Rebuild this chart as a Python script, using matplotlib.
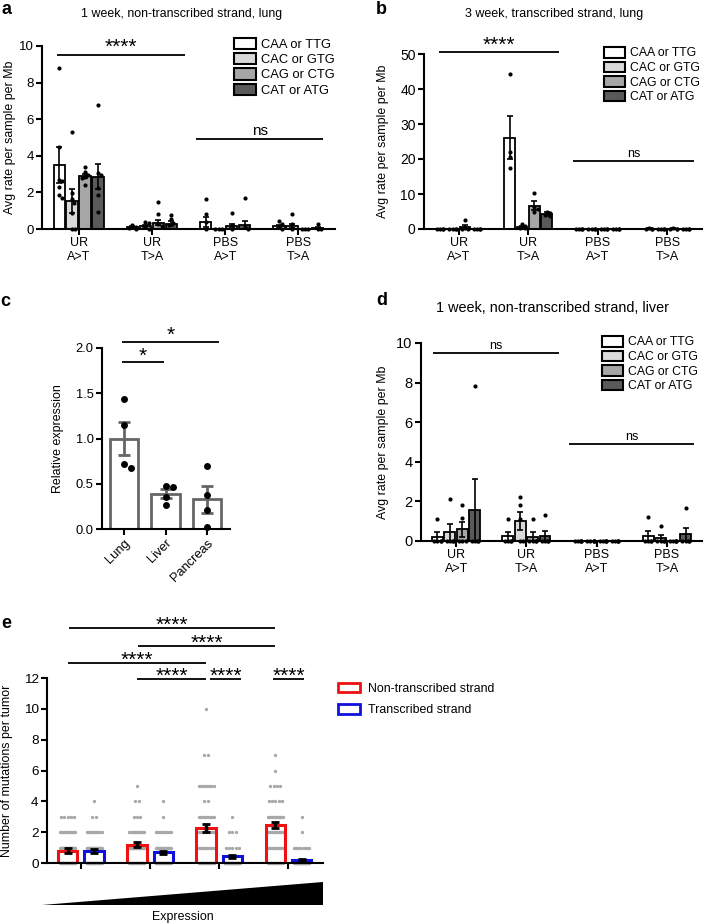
import numpy as np
import matplotlib
matplotlib.use('Agg')
import matplotlib.pyplot as plt
from matplotlib.patches import Patch, Polygon

plt.rcParams['font.family'] = ['Liberation Sans', 'DejaVu Sans']

W, H = 704, 924

# ---------------- data ----------------
codons = ['CAA or TTG', 'CAC or GTG', 'CAG or CTG', 'CAT or ATG']
codon_colors = ['white', '#d9d9d9', '#a6a6a6', '#5a5a5a']
groups = ['UR\nA>T', 'UR\nT>A', 'PBS\nA>T', 'PBS\nT>A']

# panel a: 1 week, non-transcribed strand, lung (rows = group, cols = codon)
a_mean = [[3.5, 1.55, 2.88, 2.86], [0.12, 0.17, 0.35, 0.3],
          [0.38, 0.0, 0.16, 0.22], [0.14, 0.15, 0.0, 0.05]]
a_sem = [[0.98, 0.65, 0.12, 0.7], [0.05, 0.07, 0.12, 0.12],
         [0.25, 0.0, 0.1, 0.22], [0.07, 0.12, 0.0, 0.05]]
a_pts = [
    [[8.78, 4.5, 2.7, 2.6, 2.3, 1.85, 1.7], [5.32, 1.95, 1.62, 1.44, 0.86, 0.0, 0.0],
     [3.37, 3.1, 2.95, 2.82, 2.77, 2.4], [6.78, 3.04, 2.95, 2.22, 1.86, 0.95]],
    [[0.2, 0.1, 0.05, 0.0], [0.4, 0.35, 0.15, 0.0], [1.48, 0.82, 0.3, 0.15], [0.77, 0.53, 0.35, 0.2]],
    [[1.65, 0.82, 0.4, 0.0], [0.0, 0.0, 0.0], [0.86, 0.2, 0.0], [1.7, 0.1, 0.0]],
    [[0.44, 0.3, 0.1, 0.0], [0.82, 0.3, 0.0], [0.0, 0.0, 0.0], [0.25, 0.0, 0.0]],
]

# panel b: 3 week, transcribed strand, lung
b_mean = [[0.0, 0.0, 0.6, 0.0], [26.1, 0.67, 6.7, 4.3],
          [0.0, 0.0, 0.0, 0.0], [0.12, 0.0, 0.1, 0.0]]
b_sem = [[0.0, 0.0, 0.6, 0.0], [6.2, 0.3, 1.2, 0.5],
         [0.0, 0.0, 0.0, 0.0], [0.1, 0.0, 0.08, 0.0]]
b_pts = [
    [[0, 0, 0, 0], [0, 0, 0, 0], [2.5, 0.3, 0, 0], [0, 0, 0, 0]],
    [[44.4, 22.1, 20.5, 17.5], [1.3, 0.8, 0.4, 0.2], [10.2, 6.2, 5.6, 4.8], [4.95, 4.5, 4.0, 3.7]],
    [[0, 0, 0, 0], [0, 0, 0, 0], [0, 0, 0, 0], [0, 0, 0, 0]],
    [[0.3, 0.1, 0, 0], [0, 0, 0, 0], [0.3, 0.1, 0, 0], [0, 0, 0, 0]],
]

# panel c: relative expression
tissues = ['Lung', 'Liver', 'Pancreas']
c_mean = [1.0, 0.39, 0.33]
c_sem = [0.18, 0.05, 0.15]
c_pts = [[1.44, 1.15, 0.72, 0.67], [0.47, 0.46, 0.35, 0.27], [0.70, 0.38, 0.21, 0.02]]

# panel d: 1 week, non-transcribed strand, liver
d_mean = [[0.22, 0.43, 0.59, 1.57], [0.23, 1.03, 0.22, 0.26],
          [0.0, 0.0, 0.0, 0.0], [0.25, 0.15, 0.0, 0.33]]
d_sem = [[0.22, 0.43, 0.37, 1.57], [0.23, 0.45, 0.22, 0.26],
         [0.0, 0.0, 0.0, 0.0], [0.25, 0.15, 0.0, 0.33]]
d_pts = [
    [[1.09, 0, 0, 0, 0], [2.14, 0, 0, 0, 0], [1.8, 1.16, 0, 0, 0], [7.85, 0, 0, 0, 0]],
    [[1.13, 0, 0, 0, 0], [2.24, 1.82, 1.1, 0, 0], [1.1, 0, 0, 0, 0], [1.31, 0, 0, 0, 0]],
    [[0, 0, 0, 0, 0], [0, 0, 0, 0, 0], [0, 0, 0, 0, 0], [0, 0, 0, 0, 0]],
    [[1.23, 0, 0, 0, 0], [0.76, 0, 0, 0, 0], [0, 0, 0, 0, 0], [1.65, 0, 0, 0, 0]],
]

# panel e: mutations per tumor by expression quartile
strands = ['Non-transcribed strand', 'Transcribed strand']
e_nts_mean = [0.8, 1.2, 2.25, 2.45]
e_nts_sem = [0.15, 0.15, 0.25, 0.2]
e_ts_mean = [0.78, 0.7, 0.45, 0.22]
e_ts_sem = [0.12, 0.1, 0.1, 0.07]
# number of tumours with 0, 1, 2, ... mutations
e_nts_counts = [[25, 30, 15, 5],
                [20, 20, 15, 3, 2, 1],
                [15, 12, 10, 10, 2, 8, 0, 2, 0, 0, 1],
                [15, 12, 12, 12, 5, 4, 1, 1]]
e_ts_counts = [[25, 30, 12, 2, 1],
               [25, 20, 10, 1, 1],
               [30, 5, 3, 1],
               [30, 8, 1, 1]]

# significance brackets (x1, x2, y, label)
a_sig = [(-0.3, 1.45, 9.5, '****'), (1.6, 3.34, 4.9, 'ns')]
b_sig = [(-0.29, 1.44, 50.6, '****'), (1.65, 3.38, 19.4, 'ns')]
c_sig = [(-0.05, 0.95, 1.84, '*'), (-0.05, 2.29, 2.07, '*')]
d_sig = [(-0.33, 1.46, 9.5, 'ns'), (1.61, 3.39, 4.9, 'ns')]
e_sig = [(-0.17, 2.81, 15.25, '****'), (0.83, 2.81, 14.08, '****'),
         (-0.19, 1.81, 12.97, '****'), (0.81, 1.81, 11.93, '****'),
         (1.87, 2.31, 11.93, '****'), (2.78, 3.22, 11.93, '****')]


# ---------------- helpers ----------------
def rect(l, t, r, b):
    return [l / W, 1 - b / H, (r - l) / W, (b - t) / H]


def style(ax, fs):
    for s in ['top', 'right']:
        ax.spines[s].set_visible(False)
    for s in ['left', 'bottom']:
        ax.spines[s].set_linewidth(1.5)
    ax.tick_params(width=1.5, length=4, labelsize=fs, pad=2)


def px_per_unit(ax):
    pos = ax.get_position()
    x0, x1 = ax.get_xlim()
    y0, y1 = ax.get_ylim()
    return pos.width * W / (x1 - x0), pos.height * H / (y1 - y0)


def swarm(ax, x0, ys, diam, maxhalf):
    ppx, ppy = px_per_unit(ax)
    placed, xs = [], []
    cands = [0] + [s * i for i in range(1, 40) for s in (1, -1)]
    for y in sorted(ys, reverse=True):
        yp = y * ppy
        for c in cands:
            xp = c * diam * 0.5
            if all((xp - p) ** 2 + (yp - q) ** 2 >= (0.85 * diam) ** 2 for p, q in placed):
                break
        xp = max(-maxhalf, min(maxhalf, xp))
        placed.append((xp, yp))
        xs.append(x0 + xp / ppx)
    return xs, sorted(ys, reverse=True)


def brackets(ax, sig, star_off, ns_fs, lw=1.3):
    for x1, x2, y, lab in sig:
        ax.plot([x1, x2], [y, y], color='black', lw=lw, clip_on=False,
                solid_capstyle='butt')
        if '*' in lab:
            ax.annotate(lab, ((x1 + x2) / 2, y), xytext=(0, star_off), textcoords='offset points',
                        ha='center', va='baseline', fontsize=15, annotation_clip=False)
        else:
            ax.annotate(lab, ((x1 + x2) / 2, y), xytext=(0, 1), textcoords='offset points',
                        ha='center', va='bottom', fontsize=ns_fs, annotation_clip=False)


def codon_panel(ax, means, sems, pts, ymax, yticks, sig, leg_xy, leg_fs, ylab_x, ns_fs, star_off):
    step, width = 0.177, 0.155
    ax.set_xlim(-0.5, 3.5)
    ax.set_ylim(0, ymax)
    for g in range(len(groups)):
        for j in range(len(codons)):
            x = g + (j - 1.5) * step
            ax.bar(x, means[g][j], width, color=codon_colors[j], edgecolor='black',
                   linewidth=1.3, zorder=2)
            if sems[g][j] > 0:
                ax.errorbar(x, means[g][j], yerr=sems[g][j], fmt='none', ecolor='black',
                            elinewidth=1.2, capsize=2.5, capthick=1.2, zorder=3)
            xs, ys = swarm(ax, x, pts[g][j], 4.2, 3.2)
            ax.plot(xs, ys, 'o', color='black', ms=3, mew=0, zorder=4, clip_on=False)
    ax.set_xticks(range(len(groups)))
    ax.set_xticklabels(groups, fontsize=9, linespacing=1.2)
    ax.set_yticks(yticks)
    ax.set_ylabel('Avg rate per sample per Mb', fontsize=8.9)
    pos = ax.get_position()
    ax.yaxis.set_label_coords((ylab_x - pos.x0 * W) / (pos.width * W), 0.5)
    brackets(ax, sig, star_off, ns_fs)
    handles = [Patch(facecolor=c, edgecolor='black', linewidth=1.5) for c in codon_colors]
    ax.legend(handles, codons, loc='upper left', bbox_to_anchor=(leg_xy[0] / W, 1 - leg_xy[1] / H),
              bbox_transform=fig.transFigure, frameon=False, fontsize=leg_fs, handlelength=1.7,
              handleheight=0.95, labelspacing=0.17, handletextpad=0.4, borderpad=0,
              borderaxespad=0)


fig = plt.figure(figsize=(W / 100, H / 100), dpi=100)

# ---- a ----
ax_a = fig.add_axes(rect(42, 46, 335, 229))
style(ax_a, 9.5)
codon_panel(ax_a, a_mean, a_sem, a_pts, 10, [0, 2, 4, 6, 8, 10], a_sig, (234, 38), 9.3,
            16, 11, 1.5)
fig.text(182 / W, 1 - 14 / H, '1 week, non-transcribed strand, lung', fontsize=8.9,
         ha='center', va='center')

# ---- b ----
ax_b = fig.add_axes(rect(424, 54, 702, 229))
style(ax_b, 10)
codon_panel(ax_b, b_mean, b_sem, b_pts, 50, [0, 10, 20, 30, 40, 50], b_sig, (604, 47), 8.8,
            389, 9, 0.5)
fig.text(554 / W, 1 - 14 / H, '3 week, transcribed strand, lung', fontsize=9,
         ha='center', va='center')

# ---- c ----
ax_c = fig.add_axes(rect(102, 348, 230, 529))
style(ax_c, 9.3)
ax_c.set_xlim(-0.53, 2.55)
ax_c.set_ylim(0, 2)
xc = np.arange(len(tissues))
ax_c.bar(xc, c_mean, 0.68, color='white', edgecolor='#666666', linewidth=2, zorder=2)
ax_c.errorbar(xc, c_mean, yerr=c_sem, fmt='none', ecolor='#666666', elinewidth=2,
              capsize=4, capthick=2, zorder=3)
for i in range(len(tissues)):
    xs, ys = swarm(ax_c, xc[i], c_pts[i], 7, 14)
    ax_c.plot(xs, ys, 'o', color='black', ms=5, mew=0, zorder=4, clip_on=False)
ax_c.set_xticks(xc)
ax_c.set_xticklabels(tissues, rotation=45, ha='right', rotation_mode='anchor', fontsize=9.3)
ax_c.set_yticks([0, 0.5, 1.0, 1.5, 2.0])
ax_c.set_yticklabels(['0.0', '0.5', '1.0', '1.5', '2.0'])
ax_c.set_ylabel('Relative expression', fontsize=8.9)
pos = ax_c.get_position()
ax_c.yaxis.set_label_coords((64 - pos.x0 * W) / (pos.width * W), 0.5)
brackets(ax_c, c_sig, 0.5, 9)

# ---- d ----
ax_d = fig.add_axes(rect(421, 343, 702, 541))
style(ax_d, 10.5)
codon_panel(ax_d, d_mean, d_sem, d_pts, 10, [0, 2, 4, 6, 8, 10], d_sig, (602, 336), 8.8,
            389, 9, 0.5)
fig.text(553 / W, 1 - 308 / H, '1 week, non-transcribed strand, liver', fontsize=10.4,
         ha='center', va='center')

# ---- e ----
ax_e = fig.add_axes(rect(47, 678, 323, 863))
style(ax_e, 9.7)
ax_e.set_xlim(-0.49, 3.5)
ax_e.set_ylim(0, 12)
ppx_e, _ = px_per_unit(ax_e)
off, bw = 0.19, 0.28
e_colors = ['#ee1111', '#1111dd']
for k, (means, sems, counts) in enumerate([(e_nts_mean, e_nts_sem, e_nts_counts),
                                          (e_ts_mean, e_ts_sem, e_ts_counts)]):
    xpos = np.arange(4) + (off if k else -off)
    for g in range(4):
        for level, n in enumerate(counts[g]):
            if n == 0:
                continue
            hw = min((n - 1) * 3.3 / 2, 7.5)
            xs = xpos[g] + np.linspace(-hw, hw, n) / ppx_e
            ax_e.plot(xs, [level] * n, 'o', color='#a8a8a8', ms=2.4, mew=0, zorder=1,
                      clip_on=False)
    ax_e.bar(xpos, means, bw, facecolor='none', edgecolor=e_colors[k], linewidth=2.2, zorder=2)
    ax_e.errorbar(xpos, means, yerr=sems, fmt='none', ecolor='black', elinewidth=2.5,
                  capsize=3, capthick=2, zorder=3)
ax_e.set_xticks(range(4))
ax_e.set_xticklabels([])
ax_e.set_yticks(range(0, 13, 2))
ax_e.set_ylabel('Number of mutations per tumor', fontsize=8.9)
pos = ax_e.get_position()
ax_e.yaxis.set_label_coords((13 - pos.x0 * W) / (pos.width * W), 0.5)
brackets(ax_e, e_sig, -2, 9)
handles = [Patch(facecolor='white', edgecolor=c, linewidth=2) for c in e_colors]
ax_e.legend(handles, strands, loc='upper left', bbox_to_anchor=(338 / W, 1 - 683 / H),
            bbox_transform=fig.transFigure, frameon=False, fontsize=8.9, handlelength=1.8,
            handleheight=0.8, labelspacing=0.75, handletextpad=0.6, borderpad=0,
            borderaxespad=0)

# expression wedge
wedge = Polygon([[42 / W, 1 - 905 / H], [323 / W, 1 - 882 / H], [323 / W, 1 - 905 / H]],
                closed=True, facecolor='black', edgecolor='none', transform=fig.transFigure)
fig.patches.append(wedge)
fig.text(183 / W, 1 - 917 / H, 'Expression', fontsize=8.9, ha='center', va='center')

# panel letters
for lab, x, y in [('a', 6, 9), ('b', 381, 9), ('c', 5, 302), ('d', 382, 301), ('e', 6, 623)]:
    fig.text(x / W, 1 - y / H, lab, fontsize=13, fontweight='bold', ha='center', va='center')

fig.savefig('out.png', dpi=100)
